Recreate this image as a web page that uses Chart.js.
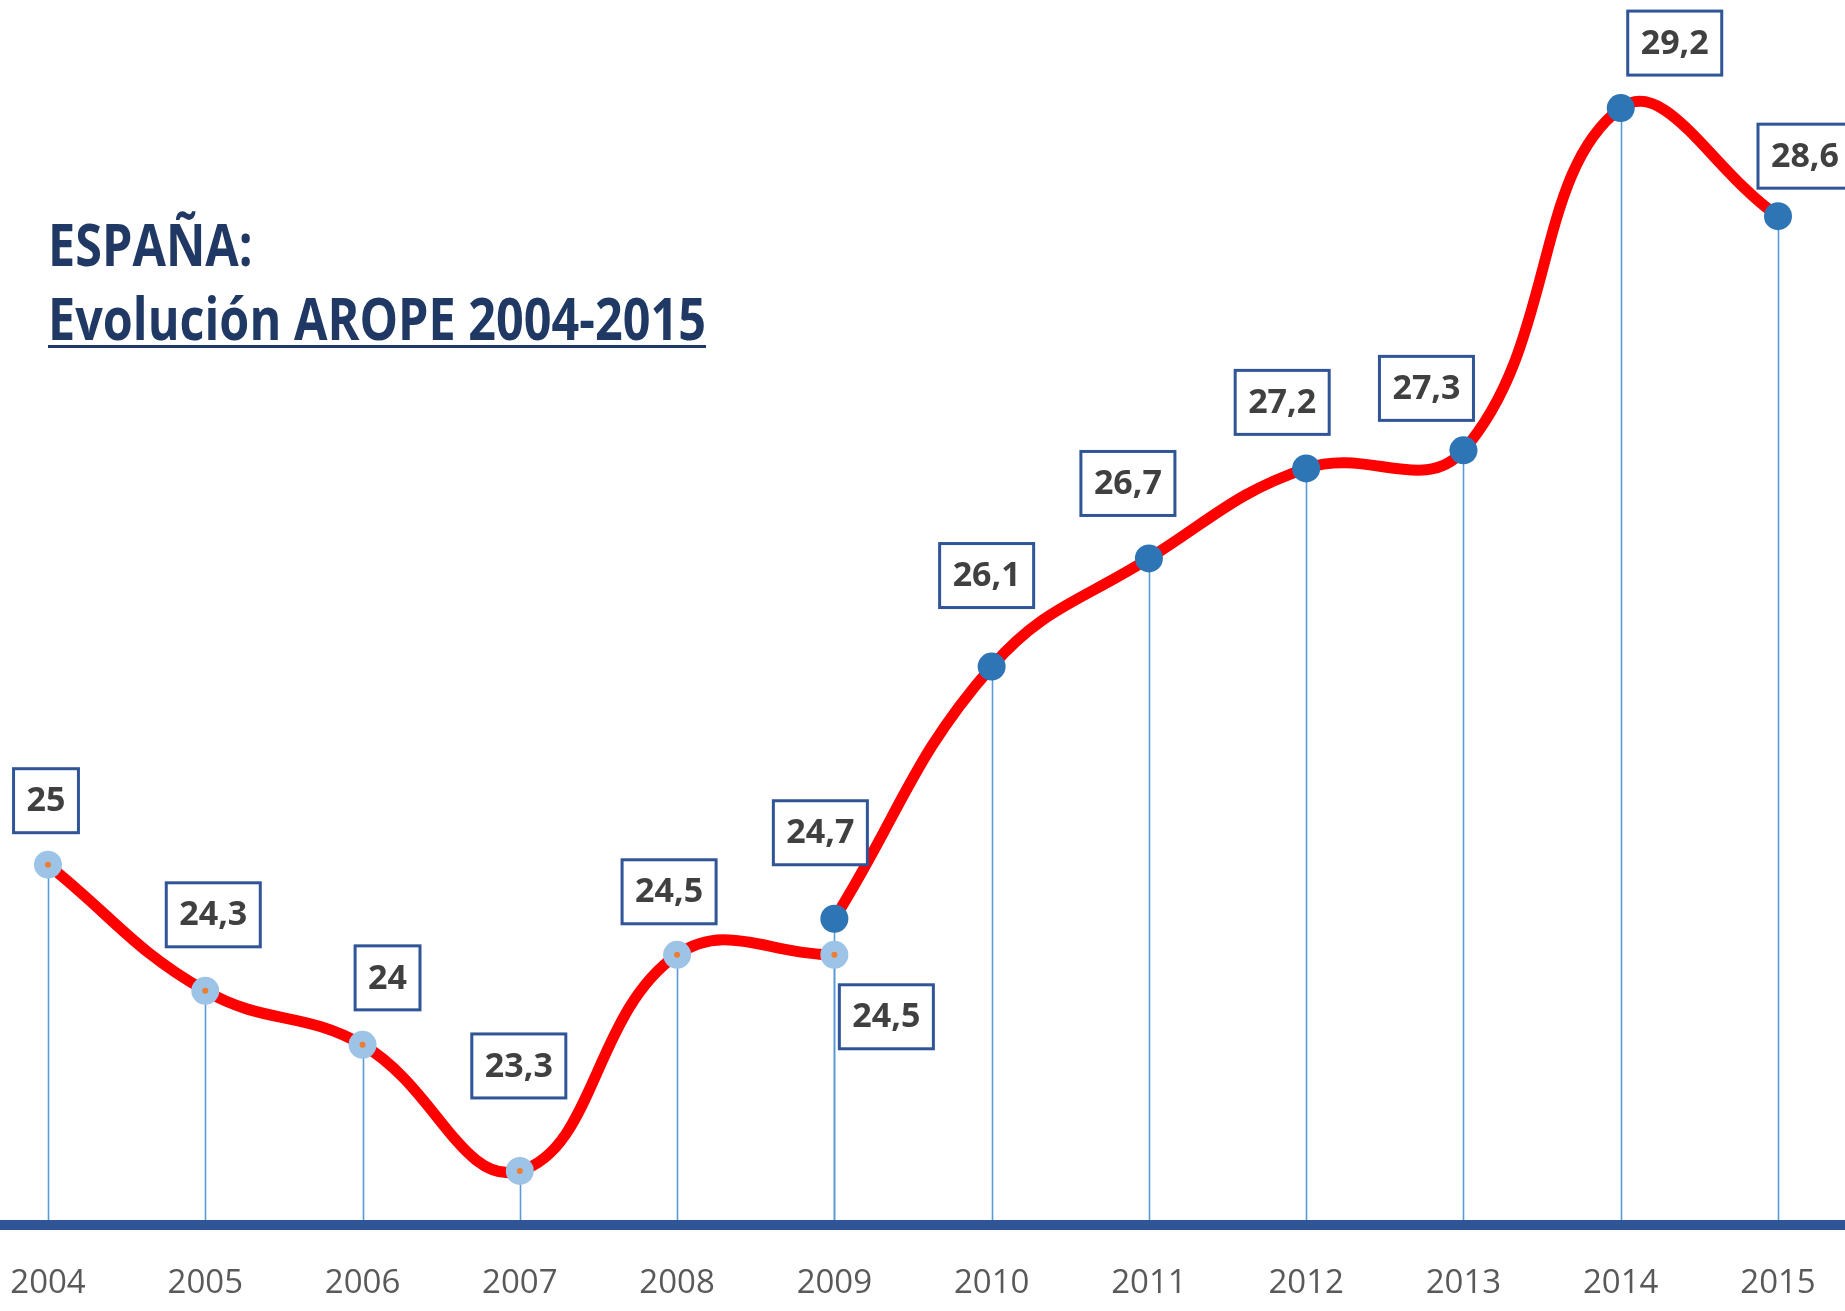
<!DOCTYPE html>
<html><head><meta charset="utf-8">
<style>html,body{margin:0;padding:0;background:#fff;overflow:hidden}#wrap{width:1845px;height:1311px;position:relative}</style>
<script src="https://cdn.jsdelivr.net/npm/chart.js@4.4.1/dist/chart.umd.min.js"></script>
</head><body><div id="wrap"><canvas id="c" width="1845" height="1311"></canvas></div>
<script>
// ---- data ----
const years = ['2004','2005','2006','2007','2008','2009','2010','2011','2012','2013','2014','2015'];
const aropeOld = [25, 24.3, 24, 23.3, 24.5, 24.5, null, null, null, null, null, null];
const aropeNew = [null, null, null, null, null, 24.7, 26.1, 26.7, 27.2, 27.3, 29.2, 28.6];
const titleLine1 = 'ESPAÑA:';
const titleLine2 = 'Evolución AROPE 2004-2015';

// ---- layout of value boxes (pixel offsets from the point) ----
const oldBoxOffsets = [[-2,-64],[8,-76],[25,-67],[-1,-105],[-8,-63],[52,62],null,null,null,null,null,null];
const newBoxOffsets = [null,null,null,null,null,[-14,-86],[-5,-91],[-21,-75],[-24,-66],[-37,-62],[54,-65],[27,-60]];

const NAVY = '#2f5597';
const fmt = v => String(v).replace('.', ',');

const decor = {
  id: 'decor',
  beforeDatasetsDraw(chart) {
    const ctx = chart.ctx;
    const base = chart.scales.y.getPixelForValue(23);
    ctx.save();
    ctx.strokeStyle = '#5b9bd5';
    ctx.lineWidth = 1.6;
    chart.data.datasets.forEach((ds, di) => {
      const meta = chart.getDatasetMeta(di);
      meta.data.forEach((pt, i) => {
        if (ds.data[i] == null) return;
        ctx.beginPath();
        ctx.moveTo(Math.round(pt.x) + 0.5, pt.y);
        ctx.lineTo(Math.round(pt.x) + 0.5, base);
        ctx.stroke();
      });
    });
    ctx.strokeStyle = NAVY;
    ctx.lineWidth = 10;
    ctx.beginPath();
    ctx.moveTo(0, base);
    ctx.lineTo(chart.width, base);
    ctx.stroke();
    ctx.restore();
  },
  afterDatasetsDraw(chart) {
    const ctx = chart.ctx;
    ctx.save();
    ctx.font = 'bold 34px "Open Sans"';
    ctx.textAlign = 'center';
    ctx.textBaseline = 'middle';
    const offs = [oldBoxOffsets, newBoxOffsets];
    chart.data.datasets.forEach((ds, di) => {
      const meta = chart.getDatasetMeta(di);
      meta.data.forEach((pt, i) => {
        const v = ds.data[i];
        const o = offs[di][i];
        if (v == null || !o) return;
        const txt = fmt(v);
        const w = ctx.measureText(txt).width + 26;
        const h = 64;
        const cx = pt.x + o[0], cy = pt.y + o[1];
        ctx.fillStyle = '#ffffff';
        ctx.fillRect(cx - w/2, cy - h/2, w, h);
        ctx.strokeStyle = NAVY;
        ctx.lineWidth = 3;
        ctx.strokeRect(cx - w/2, cy - h/2, w, h);
        ctx.fillStyle = '#404040';
        ctx.fillText(txt, cx, cy + 1);
      });
    });
    ctx.restore();
  },
  afterDraw(chart) {
    const ctx = chart.ctx;
    ctx.save();
    ctx.fillStyle = '#203864';
    ctx.font = 'bold 59px "Open Sans"';
    ctx.textBaseline = 'alphabetic';
    ctx.textAlign = 'left';
    const w2 = ctx.measureText(titleLine2).width;
    const sx = 658 / w2;
    ctx.save();
    ctx.translate(48, 266);
    ctx.scale(sx, 1);
    ctx.fillText(titleLine1, 0, 0);
    ctx.restore();
    ctx.save();
    ctx.translate(48, 340);
    ctx.scale(sx, 1);
    ctx.fillText(titleLine2, 0, 0);
    ctx.restore();
    ctx.fillRect(48, 345, 658, 3);
    ctx.restore();
  }
};

new Chart(document.getElementById('c'), {
  type: 'line',
  data: {
    labels: years,
    datasets: [
      {
        label: 'AROPE (metodología anterior)',
        data: aropeOld,
        borderColor: '#ff0000',
        borderWidth: 11,
        tension: 0.42,
        pointRadius: 8.5,
        pointBorderWidth: 11,
        pointBackgroundColor: '#ed7d31',
        pointBorderColor: '#9dc3e6',
        fill: false
      },
      {
        label: 'AROPE',
        data: aropeNew,
        borderColor: '#ff0000',
        borderWidth: 11,
        tension: 0.42,
        pointRadius: 14,
        pointBorderWidth: 0,
        pointBackgroundColor: '#2e75b6',
        pointBorderColor: '#2e75b6',
        fill: false
      }
    ]
  },
  options: {
    responsive: false,
    animation: false,
    events: [],
    devicePixelRatio: 1,
    layout: { autoPadding: false, padding: { left: 48, right: 67, top: 0, bottom: 0 } },
    plugins: { legend: { display: false }, tooltip: { enabled: false }, title: { display: false } },
    scales: {
      x: {
        offset: false,
        grid: { display: false, drawTicks: false },
        border: { display: false },
        ticks: { color: '#595959', font: { family: '"Open Sans"', size: 33 }, padding: 39, maxRotation: 0, autoSkip: false },
        afterFit: s => { s.height = 86; s.paddingLeft = 0; s.paddingRight = 0; s.paddingTop = 0; s.paddingBottom = 0; }
      },
      y: {
        display: false,
        min: 23,
        max: 29.8
      }
    }
  },
  plugins: [decor]
});
</script>
</body></html>
